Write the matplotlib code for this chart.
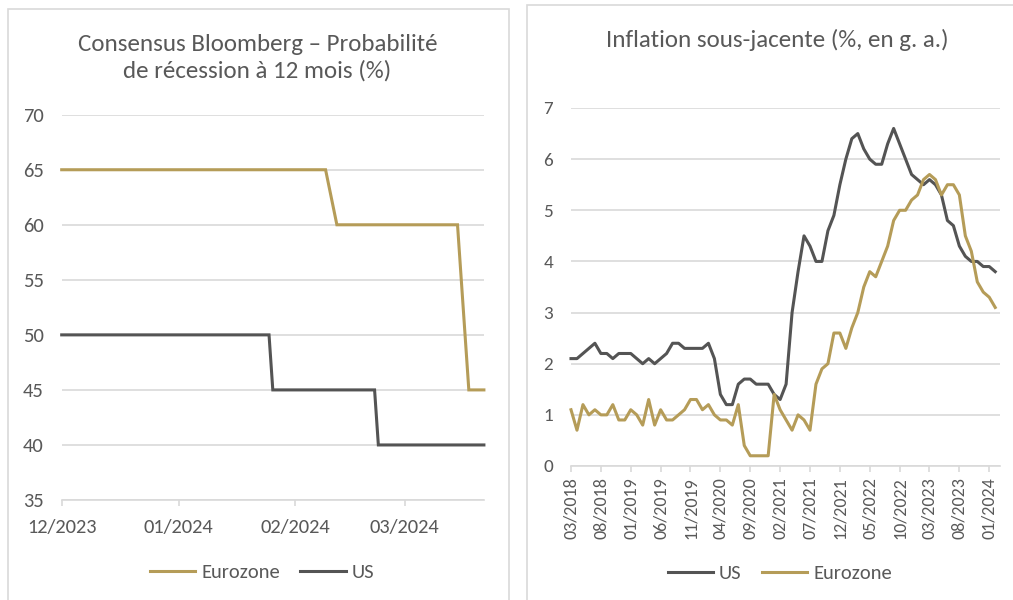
import datetime as dt
import matplotlib
matplotlib.use("Agg")
import matplotlib.pyplot as plt
import matplotlib.dates as mdates
from matplotlib import font_manager as fm
from matplotlib.patches import Rectangle
from matplotlib.lines import Line2D
import pandas as pd

# ---------------- data ----------------
# Left chart: Bloomberg consensus, probability of recession within 12 months (%)
ez_rec_dates = ["2023-12-01", "2024-02-09", "2024-02-12", "2024-03-15", "2024-03-18", "2024-03-22"]
ez_rec_vals = [65, 65, 60, 60, 45, 45]
us_rec_dates = ["2023-12-01", "2024-01-25", "2024-01-26", "2024-02-22", "2024-02-23", "2024-03-22"]
us_rec_vals = [50, 50, 45, 45, 40, 40]
rec_tick_dates = ["2023-12-01", "2024-01-01", "2024-02-01", "2024-03-01"]

# Right chart: core inflation (% y/y), monthly from 03/2018
core_start = "2018-03-01"
us_core = [2.1, 2.1, 2.2, 2.3, 2.4, 2.2, 2.2, 2.1, 2.2, 2.2, 2.2, 2.1, 2.0, 2.1, 2.0, 2.1,
           2.2, 2.4, 2.4, 2.3, 2.3, 2.3, 2.3, 2.4, 2.1, 1.4, 1.2, 1.2, 1.6, 1.7, 1.7, 1.6,
           1.6, 1.6, 1.4, 1.3, 1.6, 3.0, 3.8, 4.5, 4.3, 4.0, 4.0, 4.6, 4.9, 5.5, 6.0, 6.4,
           6.5, 6.2, 6.0, 5.9, 5.9, 6.3, 6.6, 6.3, 6.0, 5.7, 5.6, 5.5, 5.6, 5.5, 5.3, 4.8,
           4.7, 4.3, 4.1, 4.0, 4.0, 3.9, 3.9, 3.8]
ez_core = [1.1, 0.7, 1.2, 1.0, 1.1, 1.0, 1.0, 1.2, 0.9, 0.9, 1.1, 1.0, 0.8, 1.3, 0.8, 1.1,
           0.9, 0.9, 1.0, 1.1, 1.3, 1.3, 1.1, 1.2, 1.0, 0.9, 0.9, 0.8, 1.2, 0.4, 0.2, 0.2,
           0.2, 0.2, 1.4, 1.1, 0.9, 0.7, 1.0, 0.9, 0.7, 1.6, 1.9, 2.0, 2.6, 2.6, 2.3, 2.7,
           3.0, 3.5, 3.8, 3.7, 4.0, 4.3, 4.8, 5.0, 5.0, 5.2, 5.3, 5.6, 5.7, 5.6, 5.3, 5.5,
           5.5, 5.3, 4.5, 4.2, 3.6, 3.4, 3.3, 3.1]
core_tick_step = 5

left_title = "Consensus Bloomberg – Probabilité\nde récession à 12 mois (%)"
right_title = "Inflation sous-jacente (%, en g. a.)"

# ---------------- style ----------------
avail = {f.name for f in fm.fontManager.ttflist}
base = "Carlito" if "Carlito" in avail else "Lato"
plt.rcParams["font.family"] = [base, "DejaVu Sans"]

GOLD = "#B59C58"
DARK = "#545454"
GRID = "#D9D9D9"
TXT = "#595959"
LW = 2.2

W, H = 1013, 600
fig = plt.figure(figsize=(W / 100, H / 100), dpi=100)
fig.patch.set_facecolor("white")


def fx(px):
    return px / W


def fy(py):
    return 1 - py / H


# panel borders
fig.add_artist(Rectangle((fx(7.5), fy(640)), fx(508.5) - fx(7.5), (640 - 8.5) / H,
                         transform=fig.transFigure, fill=False, ec=GRID, lw=1.2))
fig.add_artist(Rectangle((fx(527), fy(640)), fx(1060) - fx(527), (640 - 5.5) / H,
                         transform=fig.transFigure, fill=False, ec=GRID, lw=1.2))

# ---------------- left chart ----------------
ax1 = fig.add_axes([fx(61.7), fy(500), (483.9 - 61.7) / W, (500 - 114.7) / H])
ezd = pd.to_datetime(ez_rec_dates)
usd = pd.to_datetime(us_rec_dates)
ax1.plot(ezd, ez_rec_vals, color=GOLD, lw=LW, solid_joinstyle="miter", zorder=3, clip_on=False)
ax1.plot(usd, us_rec_vals, color=DARK, lw=LW, solid_joinstyle="miter", zorder=3, clip_on=False)
ax1.set_xlim(pd.Timestamp(rec_tick_dates[0]), pd.Timestamp(ez_rec_dates[-1]))
ax1.set_ylim(35, 70)
ax1.set_yticks(range(35, 71, 5))
ax1.set_xticks(pd.to_datetime(rec_tick_dates))
ax1.xaxis.set_major_formatter(mdates.DateFormatter("%m/%Y"))
ax1.yaxis.grid(True, color=GRID, lw=1.2, zorder=0)
for s in ["top", "right", "left"]:
    ax1.spines[s].set_visible(False)
ax1.spines["bottom"].set_color(GRID)
ax1.spines["bottom"].set_linewidth(1.2)
ax1.tick_params(axis="y", length=0, pad=13, labelsize=14.8, labelcolor=TXT)
ax1.tick_params(axis="x", length=4, width=1.2, color=GRID, direction="out", pad=10,
                labelsize=14.8, labelcolor=TXT)
ax1.set_facecolor("none")

h1 = [Line2D([], [], color=GOLD, lw=LW), Line2D([], [], color=DARK, lw=LW)]
fig.legend(h1, ["Eurozone", "US"], loc="center", bbox_to_anchor=(fx(262), fy(572)),
           ncol=2, frameon=False, handlelength=2.2, handletextpad=0.3, columnspacing=1.0,
           fontsize=14.8, labelcolor=TXT)

fig.text(fx(257.5), fy(58), left_title, ha="center", va="center", fontsize=18,
         color=TXT, linespacing=1.3)

# ---------------- right chart ----------------
ax2 = fig.add_axes([fx(571), fy(466), (1000 - 571) / W, (466 - 108) / H])
months = pd.date_range(core_start, periods=len(us_core), freq="MS")
xi = list(range(len(months)))
ax2.plot(xi, us_core, color=DARK, lw=LW, zorder=3, clip_on=False)
ax2.plot(xi, ez_core, color=GOLD, lw=LW, zorder=3, clip_on=False)
ax2.set_xlim(0, len(months) - 1 + 0.8)
ax2.set_ylim(0, 7)
ax2.set_yticks(range(0, 8))
tick_idx = xi[::core_tick_step]
ax2.set_xticks(tick_idx)
ax2.set_xticklabels([months[i].strftime("%m/%Y") for i in tick_idx], rotation=90)
ax2.yaxis.grid(True, color=GRID, lw=1.2, zorder=0)
for s in ["top", "right", "left"]:
    ax2.spines[s].set_visible(False)
ax2.spines["bottom"].set_color(GRID)
ax2.spines["bottom"].set_linewidth(1.2)
ax2.tick_params(axis="y", length=0, pad=13, labelsize=13.8, labelcolor=TXT)
ax2.tick_params(axis="x", length=4, width=1.2, color=GRID, direction="out", pad=4,
                labelsize=13, labelcolor=TXT)
ax2.set_facecolor("none")

h2 = [Line2D([], [], color=DARK, lw=LW), Line2D([], [], color=GOLD, lw=LW)]
fig.legend(h2, ["US", "Eurozone"], loc="center", bbox_to_anchor=(fx(780), fy(573)),
           ncol=2, frameon=False, handlelength=2.2, handletextpad=0.3, columnspacing=1.0,
           fontsize=14.8, labelcolor=TXT)

fig.text(fx(777), fy(40), right_title, ha="center", va="center", fontsize=18,
         color=TXT)

fig.savefig("out.png", dpi=100, facecolor="white")
